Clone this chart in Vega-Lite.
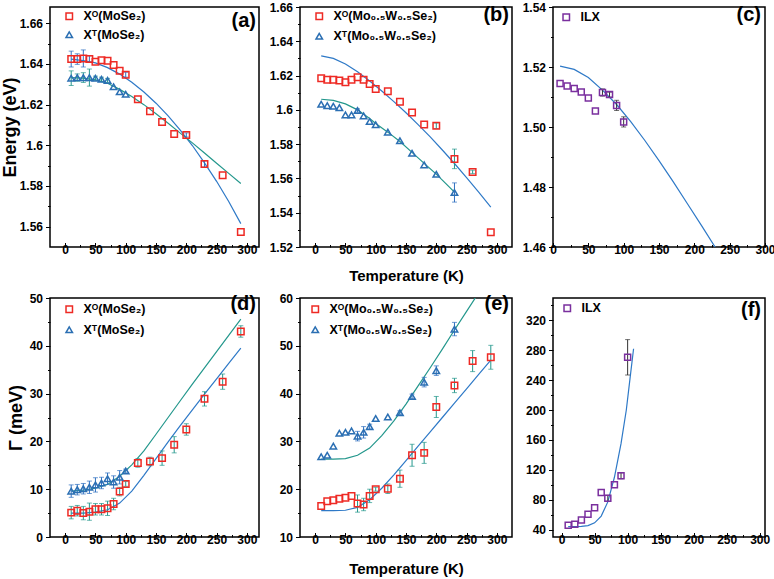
{
  "$schema": "https://vega.github.io/schema/vega-lite/v6.json",
  "background": "white",
  "padding": {"left": 0, "top": 0, "right": 0, "bottom": 0},
  "datasets": {
    "a_p": [
      {"T":10,"v":1.6424,"s":"o","lo":1.6385,"hi":1.6463},
      {"T":20,"v":1.6424,"s":"o","lo":1.6398,"hi":1.6450},
      {"T":30,"v":1.6427,"s":"o","lo":1.6385,"hi":1.6469},
      {"T":40,"v":1.6424,"s":"o","lo":1.6408,"hi":1.6440},
      {"T":50,"v":1.6411,"s":"o"},
      {"T":60,"v":1.6418,"s":"o"},
      {"T":70,"v":1.6416,"s":"o"},
      {"T":80,"v":1.6395,"s":"o"},
      {"T":90,"v":1.6366,"s":"o"},
      {"T":100,"v":1.6347,"s":"o","lo":1.6335,"hi":1.6359},
      {"T":120,"v":1.6227,"s":"o"},
      {"T":140,"v":1.6168,"s":"o"},
      {"T":160,"v":1.6115,"s":"o"},
      {"T":180,"v":1.6056,"s":"o"},
      {"T":200,"v":1.6051,"s":"o","lo":1.6041,"hi":1.6061},
      {"T":230,"v":1.5908,"s":"o","lo":1.5893,"hi":1.5923},
      {"T":260,"v":1.5853,"s":"o"},
      {"T":290,"v":1.5574,"s":"o"},
      {"T":10,"v":1.6330,"s":"t","lo":1.6294,"hi":1.6366},
      {"T":20,"v":1.6333,"s":"t","lo":1.6315,"hi":1.6351},
      {"T":30,"v":1.6333,"s":"t","lo":1.6309,"hi":1.6357},
      {"T":40,"v":1.6333,"s":"t","lo":1.6291,"hi":1.6375},
      {"T":50,"v":1.6330,"s":"t","lo":1.6320,"hi":1.6340},
      {"T":60,"v":1.6325,"s":"t","lo":1.6315,"hi":1.6335},
      {"T":70,"v":1.6319,"s":"t","lo":1.6309,"hi":1.6329},
      {"T":80,"v":1.6288,"s":"t"},
      {"T":90,"v":1.6263,"s":"t"},
      {"T":100,"v":1.6251,"s":"t"}
    ],
    "a_f": [
      {"T":10,"v":1.6424,"s":"o"},{"T":30,"v":1.6416,"s":"o"},{"T":50,"v":1.6405,"s":"o"},{"T":70,"v":1.6382,"s":"o"},
      {"T":90,"v":1.6350,"s":"o"},{"T":110,"v":1.6310,"s":"o"},{"T":130,"v":1.6262,"s":"o"},{"T":150,"v":1.6207,"s":"o"},
      {"T":170,"v":1.6145,"s":"o"},{"T":190,"v":1.6075,"s":"o"},{"T":210,"v":1.5999,"s":"o"},{"T":230,"v":1.5914,"s":"o"},
      {"T":250,"v":1.5823,"s":"o"},{"T":270,"v":1.5724,"s":"o"},{"T":290,"v":1.5615,"s":"o"},
      {"T":10,"v":1.6333,"s":"t"},{"T":30,"v":1.6330,"s":"t"},{"T":50,"v":1.6322,"s":"t"},{"T":70,"v":1.6305,"s":"t"},
      {"T":90,"v":1.6275,"s":"t"},{"T":110,"v":1.6240,"s":"t"},{"T":130,"v":1.6200,"s":"t"},{"T":150,"v":1.6155,"s":"t"},
      {"T":170,"v":1.6108,"s":"t"},{"T":190,"v":1.6060,"s":"t"},{"T":210,"v":1.6012,"s":"t"},{"T":230,"v":1.5962,"s":"t"},
      {"T":250,"v":1.5912,"s":"t"},{"T":270,"v":1.5862,"s":"t"},{"T":290,"v":1.5812,"s":"t"}
    ],
    "b_p": [
      {"T":10,"v":1.6184,"s":"o"},{"T":20,"v":1.6176,"s":"o"},{"T":30,"v":1.6176,"s":"o"},{"T":40,"v":1.6171,"s":"o"},
      {"T":50,"v":1.6161,"s":"o"},{"T":60,"v":1.6176,"s":"o"},{"T":70,"v":1.6190,"s":"o"},{"T":80,"v":1.6176,"s":"o"},
      {"T":90,"v":1.6151,"s":"o"},{"T":100,"v":1.6121,"s":"o"},{"T":120,"v":1.6108,"s":"o"},{"T":140,"v":1.6047,"s":"o"},
      {"T":160,"v":1.5984,"s":"o"},{"T":180,"v":1.5914,"s":"o"},
      {"T":200,"v":1.5907,"s":"o","lo":1.5891,"hi":1.5923},
      {"T":230,"v":1.5714,"s":"o","lo":1.5657,"hi":1.5771},
      {"T":260,"v":1.5638,"s":"o","lo":1.5628,"hi":1.5648},
      {"T":290,"v":1.5286,"s":"o"},
      {"T":10,"v":1.6033,"s":"t"},{"T":20,"v":1.6025,"s":"t"},{"T":30,"v":1.6021,"s":"t"},{"T":40,"v":1.6013,"s":"t"},
      {"T":50,"v":1.5971,"s":"t"},{"T":60,"v":1.5971,"s":"t"},
      {"T":70,"v":1.5996,"s":"t","lo":1.5986,"hi":1.6006},
      {"T":80,"v":1.5965,"s":"t"},{"T":90,"v":1.5932,"s":"t"},{"T":100,"v":1.5913,"s":"t"},{"T":120,"v":1.5870,"s":"t"},
      {"T":140,"v":1.5820,"s":"t"},{"T":160,"v":1.5747,"s":"t"},{"T":180,"v":1.5679,"s":"t"},{"T":200,"v":1.5624,"s":"t"},
      {"T":230,"v":1.5518,"s":"t","lo":1.5462,"hi":1.5574}
    ],
    "b_f": [
      {"T":10,"v":1.6315,"s":"o"},{"T":30,"v":1.6300,"s":"o"},{"T":50,"v":1.6268,"s":"o"},{"T":70,"v":1.6222,"s":"o"},
      {"T":90,"v":1.6168,"s":"o"},{"T":110,"v":1.6110,"s":"o"},{"T":130,"v":1.6048,"s":"o"},{"T":150,"v":1.5983,"s":"o"},
      {"T":170,"v":1.5914,"s":"o"},{"T":190,"v":1.5842,"s":"o"},{"T":210,"v":1.5766,"s":"o"},{"T":230,"v":1.5687,"s":"o"},
      {"T":250,"v":1.5605,"s":"o"},{"T":270,"v":1.5520,"s":"o"},{"T":290,"v":1.5432,"s":"o"},
      {"T":10,"v":1.6062,"s":"t"},{"T":30,"v":1.6055,"s":"t"},{"T":50,"v":1.6035,"s":"t"},{"T":70,"v":1.6000,"s":"t"},
      {"T":90,"v":1.5950,"s":"t"},{"T":100,"v":1.5920,"s":"t"},{"T":120,"v":1.5870,"s":"t"},{"T":140,"v":1.5815,"s":"t"},
      {"T":160,"v":1.5752,"s":"t"},{"T":180,"v":1.5688,"s":"t"},{"T":200,"v":1.5625,"s":"t"},{"T":230,"v":1.5520,"s":"t"}
    ],
    "c_p": [
      {"T":10,"v":1.5145,"s":"ILX"},{"T":20,"v":1.5137,"s":"ILX"},{"T":30,"v":1.5128,"s":"ILX"},{"T":40,"v":1.5117,"s":"ILX"},
      {"T":50,"v":1.5097,"s":"ILX"},{"T":60,"v":1.5053,"s":"ILX"},
      {"T":70,"v":1.5115,"s":"ILX","lo":1.5103,"hi":1.5127},
      {"T":80,"v":1.5108,"s":"ILX","lo":1.5100,"hi":1.5116},
      {"T":90,"v":1.5072,"s":"ILX","lo":1.5055,"hi":1.5089},
      {"T":100,"v":1.5017,"s":"ILX","lo":1.5000,"hi":1.5034}
    ],
    "c_f": [
      {"T":10,"v":1.5203},{"T":30,"v":1.5192},{"T":50,"v":1.5165},{"T":70,"v":1.5123},{"T":90,"v":1.5075},
      {"T":110,"v":1.5018},{"T":130,"v":1.4955},{"T":150,"v":1.4888},{"T":170,"v":1.4818},{"T":190,"v":1.4745},
      {"T":210,"v":1.4672},{"T":232,"v":1.4590}
    ],
    "d_p": [
      {"T":10,"v":5.1,"s":"o","lo":3.8,"hi":6.4},{"T":20,"v":5.5,"s":"o","lo":4.4,"hi":6.6},
      {"T":30,"v":5.0,"s":"o","lo":3.6,"hi":6.4},{"T":40,"v":5.3,"s":"o","lo":3.5,"hi":7.1},
      {"T":50,"v":5.8,"s":"o","lo":4.6,"hi":7.0},{"T":60,"v":5.8,"s":"o","lo":4.6,"hi":7.0},
      {"T":70,"v":6.0,"s":"o","lo":4.5,"hi":7.5},{"T":80,"v":6.9,"s":"o","lo":5.7,"hi":8.1},
      {"T":90,"v":9.5,"s":"o","lo":8.6,"hi":10.4},{"T":100,"v":11.1,"s":"o","lo":10.6,"hi":11.6},
      {"T":120,"v":15.5,"s":"o","lo":14.6,"hi":16.4},{"T":140,"v":15.8,"s":"o","lo":14.9,"hi":16.7},
      {"T":160,"v":16.5,"s":"o","lo":15.0,"hi":18.0},{"T":180,"v":19.3,"s":"o","lo":17.6,"hi":21.0},
      {"T":200,"v":22.5,"s":"o","lo":21.3,"hi":23.7},{"T":230,"v":28.9,"s":"o","lo":27.4,"hi":30.4},
      {"T":260,"v":32.5,"s":"o","lo":30.9,"hi":34.1},{"T":290,"v":43.0,"s":"o","lo":41.8,"hi":44.2},
      {"T":10,"v":9.6,"s":"t","lo":8.3,"hi":10.9},{"T":20,"v":9.9,"s":"t","lo":8.8,"hi":11.0},
      {"T":30,"v":10.1,"s":"t","lo":9.0,"hi":11.2},{"T":40,"v":10.4,"s":"t","lo":9.1,"hi":11.7},
      {"T":50,"v":10.9,"s":"t","lo":9.4,"hi":12.4},{"T":60,"v":11.3,"s":"t","lo":10.1,"hi":12.5},
      {"T":70,"v":12.2,"s":"t","lo":11.0,"hi":13.4},{"T":80,"v":11.5,"s":"t","lo":10.2,"hi":12.8},
      {"T":90,"v":12.5,"s":"t","lo":11.1,"hi":13.9},{"T":100,"v":13.8,"s":"t","lo":13.4,"hi":14.2}
    ],
    "d_f": [
      {"T":10,"v":5.0,"s":"o"},{"T":30,"v":5.0,"s":"o"},{"T":50,"v":5.2,"s":"o"},{"T":70,"v":5.7,"s":"o"},
      {"T":90,"v":7.1,"s":"o"},{"T":110,"v":9.6,"s":"o"},{"T":130,"v":12.9,"s":"o"},{"T":150,"v":16.4,"s":"o"},
      {"T":170,"v":19.9,"s":"o"},{"T":190,"v":23.3,"s":"o"},{"T":210,"v":26.6,"s":"o"},{"T":230,"v":29.9,"s":"o"},
      {"T":250,"v":33.1,"s":"o"},{"T":270,"v":36.3,"s":"o"},{"T":290,"v":39.5,"s":"o"},
      {"T":10,"v":9.6,"s":"t"},{"T":30,"v":9.8,"s":"t"},{"T":50,"v":10.2,"s":"t"},{"T":70,"v":11.0,"s":"t"},
      {"T":90,"v":12.7,"s":"t"},{"T":110,"v":15.1,"s":"t"},{"T":130,"v":18.0,"s":"t"},{"T":150,"v":21.5,"s":"t"},
      {"T":170,"v":25.0,"s":"t"},{"T":190,"v":28.5,"s":"t"},{"T":210,"v":32.0,"s":"t"},{"T":230,"v":35.4,"s":"t"},
      {"T":250,"v":38.8,"s":"t"},{"T":270,"v":42.2,"s":"t"},{"T":290,"v":45.6,"s":"t"}
    ],
    "e_p": [
      {"T":10,"v":16.5,"s":"o"},{"T":20,"v":17.5,"s":"o"},{"T":30,"v":17.7,"s":"o"},{"T":40,"v":18.0,"s":"o"},
      {"T":50,"v":18.2,"s":"o"},{"T":60,"v":18.6,"s":"o"},
      {"T":70,"v":17.0,"s":"o","lo":15.2,"hi":18.8},{"T":80,"v":16.8,"s":"o","lo":15.5,"hi":18.1},
      {"T":90,"v":18.6,"s":"o","lo":17.2,"hi":20.0},{"T":100,"v":20.0,"s":"o","lo":19.6,"hi":20.4},
      {"T":120,"v":20.1,"s":"o","lo":19.1,"hi":21.1},{"T":140,"v":22.2,"s":"o","lo":20.4,"hi":24.0},
      {"T":160,"v":27.1,"s":"o","lo":24.8,"hi":29.4},{"T":180,"v":27.6,"s":"o","lo":25.4,"hi":29.8},
      {"T":200,"v":37.2,"s":"o","lo":35.0,"hi":39.4},{"T":230,"v":41.7,"s":"o","lo":40.2,"hi":43.2},
      {"T":260,"v":46.8,"s":"o","lo":44.6,"hi":49.0},{"T":290,"v":47.6,"s":"o","lo":45.1,"hi":50.1},
      {"T":10,"v":26.8,"s":"t"},{"T":20,"v":27.1,"s":"t"},{"T":30,"v":29.0,"s":"t"},{"T":40,"v":31.7,"s":"t"},
      {"T":50,"v":31.9,"s":"t"},{"T":60,"v":32.2,"s":"t"},
      {"T":70,"v":31.1,"s":"t","lo":30.1,"hi":32.1},{"T":80,"v":31.9,"s":"t","lo":30.7,"hi":33.1},
      {"T":90,"v":33.1,"s":"t","lo":32.6,"hi":33.6},{"T":100,"v":34.8,"s":"t"},{"T":120,"v":35.1,"s":"t"},
      {"T":140,"v":36.0,"s":"t","lo":35.6,"hi":36.4},{"T":160,"v":39.4,"s":"t","lo":38.9,"hi":39.9},
      {"T":180,"v":42.4,"s":"t","lo":41.4,"hi":43.4},{"T":200,"v":44.8,"s":"t","lo":43.8,"hi":45.8},
      {"T":230,"v":53.5,"s":"t","lo":52.1,"hi":54.9}
    ],
    "e_f": [
      {"T":10,"v":15.5,"s":"o"},{"T":30,"v":15.5,"s":"o"},{"T":50,"v":15.6,"s":"o"},{"T":70,"v":16.2,"s":"o"},
      {"T":90,"v":17.8,"s":"o"},{"T":110,"v":20.2,"s":"o"},{"T":130,"v":23.0,"s":"o"},{"T":150,"v":26.0,"s":"o"},
      {"T":170,"v":29.0,"s":"o"},{"T":190,"v":32.0,"s":"o"},{"T":210,"v":35.0,"s":"o"},{"T":230,"v":38.0,"s":"o"},
      {"T":250,"v":41.0,"s":"o"},{"T":270,"v":44.0,"s":"o"},{"T":290,"v":47.0,"s":"o"},
      {"T":10,"v":26.3,"s":"t"},{"T":30,"v":26.3,"s":"t"},{"T":50,"v":26.4,"s":"t"},{"T":70,"v":27.1,"s":"t"},
      {"T":90,"v":28.6,"s":"t"},{"T":110,"v":31.2,"s":"t"},{"T":130,"v":34.3,"s":"t"},{"T":150,"v":37.8,"s":"t"},
      {"T":170,"v":41.6,"s":"t"},{"T":190,"v":45.4,"s":"t"},{"T":210,"v":49.3,"s":"t"},{"T":230,"v":53.3,"s":"t"},
      {"T":250,"v":57.2,"s":"t"},{"T":270,"v":61.1,"s":"t"}
    ],
    "f_p": [
      {"T":10,"v":45.8,"s":"ILX"},{"T":20,"v":47.2,"s":"ILX"},{"T":30,"v":52.7,"s":"ILX"},{"T":40,"v":60.3,"s":"ILX"},
      {"T":50,"v":69.3,"s":"ILX"},{"T":60,"v":89.7,"s":"ILX"},
      {"T":70,"v":81.8,"s":"ILX","lo":77.8,"hi":85.8},
      {"T":80,"v":100.0,"s":"ILX"},
      {"T":90,"v":112.0,"s":"ILX","lo":108.0,"hi":116.0},
      {"T":100,"v":270.6,"s":"ILX","lo":246.9,"hi":294.3}
    ],
    "f_f": [
      {"T":10,"v":44.0},{"T":20,"v":44.0},{"T":30,"v":44.3},{"T":40,"v":45.3},{"T":50,"v":49.0},{"T":60,"v":58.0},
      {"T":70,"v":77.0},{"T":80,"v":110.0},{"T":90,"v":155.0},{"T":98,"v":200.0},{"T":104,"v":245.0},{"T":109,"v":282.0}
    ]
  },
  "config": {
    "font": "Liberation Sans",
    "view": {"stroke": "black", "strokeWidth": 1.5},
    "axis": {
      "grid": false, "domain": false, "tickCount": 40,
      "labelFont": "Liberation Sans", "labelFontSize": 12, "labelFontWeight": "bold", "labelColor": "black",
      "labelPadding": 3, "labelOverlap": false, "labelFlush": false, "labelBound": false,
      "tickColor": "black", "tickWidth": 1,
      "titleFont": "Liberation Sans", "titleFontWeight": "bold", "titleColor": "black"
    },
    "title": {"font": "Liberation Sans", "fontSize": 20, "fontWeight": "bold", "color": "black", "anchor": "end", "frame": "group", "baseline": "middle"},
    "legend": {"orient": "none", "title": null, "padding": 0, "symbolStrokeWidth": 1.5, "symbolSize": 42,
      "labelFont": "Liberation Sans", "labelFontSize": 12.5, "labelFontWeight": "bold", "labelColor": "black", "labelOffset": 8}
  },
  "columns": 3,
  "spacing": {"row": 51, "column": 41},
  "bounds": "flush",
  "align": "each",
  "resolve": {"scale": {"color": "independent", "shape": "independent"}, "legend": {"color": "independent", "shape": "independent"}},
  "concat": [
    {
      "width": 209, "height": 240,
      "title": {"text": "(a)", "offset": -24, "dx": -3},
      "layer": [
        {"data": {"name": "a_f"}, "transform": [{"filter": "datum.s == 'o'"}],
         "mark": {"type": "line", "color": "#2e79c7", "strokeWidth": 1.2, "clip": true},
         "encoding": {
           "x": {"field": "T", "type": "quantitative", "title": null, "scale": {"domain": [-25, 320], "nice": false, "zero": false},
             "axis": {"values": [0,25,50,75,100,125,150,175,200,225,250,275,300], "tickCount": 40, "format": "d", "labelOverlap": false, "labelPadding": 2,
               "labelExpr": "datum.value % 50 == 0 ? datum.label : ''",
               "tickSize": {"condition": {"test": "datum.value % 50 != 0", "value": -2.5}, "value": -4.5}}},
           "y": {"field": "v", "type": "quantitative", "title": "Energy (eV)", "scale": {"domain": [1.55, 1.668], "nice": false, "zero": false},
             "axis": {"titleFontSize": 18, "titlePadding": 0, "labelOverlap": false, "tickCount": 40,
               "values": [1.56,1.57,1.58,1.59,1.60,1.61,1.62,1.63,1.64,1.65,1.66], "format": ".2~f",
               "labelExpr": "abs(datum.value*50 - round(datum.value*50)) < 0.01 ? datum.label : ''",
               "tickSize": {"condition": {"test": "abs(datum.value*50 - round(datum.value*50)) > 0.01", "value": 2.5}, "value": 4.5}}}
         }},
        {"data": {"name": "a_f"}, "transform": [{"filter": "datum.s == 't'"}],
         "mark": {"type": "line", "color": "#23978c", "strokeWidth": 1.2, "clip": true},
         "encoding": {"x": {"field": "T", "type": "quantitative", "title": null}, "y": {"field": "v", "type": "quantitative", "title": "Energy (eV)"}}},
        {"data": {"name": "a_p"}, "transform": [{"filter": "datum.s == 'o' && isValid(datum.lo)"}],
         "mark": {"type": "errorbar", "ticks": true, "size": 5, "thickness": 1, "color": "#2e6fc0"},
         "encoding": {"x": {"field": "T", "type": "quantitative", "title": null}, "y": {"field": "lo", "type": "quantitative", "title": "Energy (eV)"}, "y2": {"field": "hi"}}},
        {"data": {"name": "a_p"}, "transform": [{"filter": "datum.s == 't' && isValid(datum.lo)"}],
         "mark": {"type": "errorbar", "ticks": true, "size": 5, "thickness": 1, "color": "#23978c"},
         "encoding": {"x": {"field": "T", "type": "quantitative", "title": null}, "y": {"field": "lo", "type": "quantitative", "title": "Energy (eV)"}, "y2": {"field": "hi"}}},
        {"data": {"name": "a_p"},
         "mark": {"type": "point", "filled": false, "size": 42, "strokeWidth": 1.5, "opacity": 1},
         "encoding": {
           "x": {"field": "T", "type": "quantitative", "title": null}, "y": {"field": "v", "type": "quantitative", "title": "Energy (eV)"},
           "color": {"field": "s", "type": "nominal", "scale": {"domain": ["o", "t"], "range": ["#ee2a24", "#2b6fb3"]},
             "legend": {"legendX": 13, "legendY": 3, "rowPadding": 5.5, "labelExpr": "datum.label == 'o' ? 'Xᴼ(MoSe₂)' : 'Xᵀ(MoSe₂)'"}},
           "shape": {"field": "s", "type": "nominal", "scale": {"domain": ["o", "t"], "range": ["square", "triangle-up"]},
             "legend": {"legendX": 13, "legendY": 3, "rowPadding": 5.5, "labelExpr": "datum.label == 'o' ? 'Xᴼ(MoSe₂)' : 'Xᵀ(MoSe₂)'"}}
         }}
      ]
    },
    {
      "width": 212, "height": 240,
      "title": {"text": "(b)", "offset": -24, "dx": -3},
      "layer": [
        {"data": {"name": "b_f"}, "transform": [{"filter": "datum.s == 'o'"}],
         "mark": {"type": "line", "color": "#2e79c7", "strokeWidth": 1.2, "clip": true},
         "encoding": {
           "x": {"field": "T", "type": "quantitative", "title": "Temperature (K)", "scale": {"domain": [-25, 325], "nice": false, "zero": false},
             "axis": {"titleFontSize": 15, "titlePadding": 11, "labelOverlap": false, "labelPadding": 2, "tickCount": 40,
               "values": [0,25,50,75,100,125,150,175,200,225,250,275,300], "format": "d",
               "labelExpr": "datum.value % 50 == 0 ? datum.label : ''",
               "tickSize": {"condition": {"test": "datum.value % 50 != 0", "value": -2.5}, "value": -4.5}}},
           "y": {"field": "v", "type": "quantitative", "title": null, "scale": {"domain": [1.52, 1.66], "nice": false, "zero": false},
             "axis": {"labelOverlap": false, "tickCount": 40, "values": [1.52,1.53,1.54,1.55,1.56,1.57,1.58,1.59,1.60,1.61,1.62,1.63,1.64,1.65,1.66], "format": ".2~f",
               "labelExpr": "abs(datum.value*50 - round(datum.value*50)) < 0.01 ? datum.label : ''",
               "tickSize": {"condition": {"test": "abs(datum.value*50 - round(datum.value*50)) > 0.01", "value": 2.5}, "value": 4.5}}}
         }},
        {"data": {"name": "b_f"}, "transform": [{"filter": "datum.s == 't'"}],
         "mark": {"type": "line", "color": "#23978c", "strokeWidth": 1.2, "clip": true},
         "encoding": {"x": {"field": "T", "type": "quantitative", "title": "Temperature (K)"}, "y": {"field": "v", "type": "quantitative", "title": null}}},
        {"data": {"name": "b_p"}, "transform": [{"filter": "datum.s == 'o' && isValid(datum.lo)"}],
         "mark": {"type": "errorbar", "ticks": true, "size": 5, "thickness": 1, "color": "#23978c"},
         "encoding": {"x": {"field": "T", "type": "quantitative", "title": "Temperature (K)"}, "y": {"field": "lo", "type": "quantitative", "title": null}, "y2": {"field": "hi"}}},
        {"data": {"name": "b_p"}, "transform": [{"filter": "datum.s == 't' && isValid(datum.lo)"}],
         "mark": {"type": "errorbar", "ticks": true, "size": 5, "thickness": 1, "color": "#2e6fc0"},
         "encoding": {"x": {"field": "T", "type": "quantitative", "title": "Temperature (K)"}, "y": {"field": "lo", "type": "quantitative", "title": null}, "y2": {"field": "hi"}}},
        {"data": {"name": "b_p"},
         "mark": {"type": "point", "filled": false, "size": 42, "strokeWidth": 1.5, "opacity": 1},
         "encoding": {
           "x": {"field": "T", "type": "quantitative", "title": "Temperature (K)"}, "y": {"field": "v", "type": "quantitative", "title": null},
           "color": {"field": "s", "type": "nominal", "scale": {"domain": ["o", "t"], "range": ["#ee2a24", "#2b6fb3"]},
             "legend": {"legendX": 13, "legendY": 3, "rowPadding": 7, "labelExpr": "datum.label == 'o' ? 'Xᴼ(Mo₀.₅W₀.₅Se₂)' : 'Xᵀ(Mo₀.₅W₀.₅Se₂)'"}},
           "shape": {"field": "s", "type": "nominal", "scale": {"domain": ["o", "t"], "range": ["square", "triangle-up"]},
             "legend": {"legendX": 13, "legendY": 3, "rowPadding": 7, "labelExpr": "datum.label == 'o' ? 'Xᴼ(Mo₀.₅W₀.₅Se₂)' : 'Xᵀ(Mo₀.₅W₀.₅Se₂)'"}}
         }}
      ]
    },
    {
      "width": 212, "height": 240,
      "title": {"text": "(c)", "offset": -24, "dx": -4},
      "layer": [
        {"data": {"name": "c_f"},
         "mark": {"type": "line", "color": "#2e79c7", "strokeWidth": 1.2, "clip": true},
         "encoding": {
           "x": {"field": "T", "type": "quantitative", "title": null, "scale": {"domain": [0, 300], "nice": false, "zero": false},
             "axis": {"values": [0,25,50,75,100,125,150,175,200,225,250,275,300], "tickCount": 40, "format": "d", "labelOverlap": false, "labelPadding": 2,
               "labelExpr": "datum.value % 50 == 0 ? datum.label : ''",
               "tickSize": {"condition": {"test": "datum.value % 50 != 0", "value": -2.5}, "value": -4.5}}},
           "y": {"field": "v", "type": "quantitative", "title": null, "scale": {"domain": [1.46, 1.54], "nice": false, "zero": false},
             "axis": {"labelOverlap": false, "tickCount": 40, "values": [1.46,1.47,1.48,1.49,1.50,1.51,1.52,1.53,1.54], "format": ".2f",
               "labelExpr": "abs(datum.value*50 - round(datum.value*50)) < 0.01 ? datum.label : ''",
               "tickSize": {"condition": {"test": "abs(datum.value*50 - round(datum.value*50)) > 0.01", "value": 2.5}, "value": 4.5}}}
         }},
        {"data": {"name": "c_p"}, "transform": [{"filter": "isValid(datum.lo)"}],
         "mark": {"type": "errorbar", "ticks": true, "size": 5, "thickness": 1, "color": "#333333"},
         "encoding": {"x": {"field": "T", "type": "quantitative", "title": null}, "y": {"field": "lo", "type": "quantitative", "title": null}, "y2": {"field": "hi"}}},
        {"data": {"name": "c_p"},
         "mark": {"type": "point", "filled": false, "size": 36, "strokeWidth": 1.5, "opacity": 1},
         "encoding": {
           "x": {"field": "T", "type": "quantitative", "title": null}, "y": {"field": "v", "type": "quantitative", "title": null},
           "color": {"field": "s", "type": "nominal", "scale": {"domain": ["ILX"], "range": ["#7a2f9e"]},
             "legend": {"legendX": 7, "legendY": 4}},
           "shape": {"field": "s", "type": "nominal", "scale": {"domain": ["ILX"], "range": ["square"]},
             "legend": {"legendX": 7, "legendY": 4}}
         }}
      ]
    },
    {
      "width": 209, "height": 239,
      "title": {"text": "(d)", "offset": -22, "dx": -3},
      "layer": [
        {"data": {"name": "d_f"}, "transform": [{"filter": "datum.s == 'o'"}],
         "mark": {"type": "line", "color": "#2e79c7", "strokeWidth": 1.2, "clip": true},
         "encoding": {
           "x": {"field": "T", "type": "quantitative", "title": null, "scale": {"domain": [-25, 320], "nice": false, "zero": false},
             "axis": {"values": [0,25,50,75,100,125,150,175,200,225,250,275,300], "tickCount": 40, "format": "d", "labelOverlap": false, "labelPadding": 2,
               "labelExpr": "datum.value % 50 == 0 ? datum.label : ''",
               "tickSize": {"condition": {"test": "datum.value % 50 != 0", "value": -2.5}, "value": -4.5}}},
           "y": {"field": "v", "type": "quantitative", "title": "Γ (meV)", "scale": {"domain": [0, 50], "nice": false, "zero": false},
             "axis": {"titleFontSize": 18, "titlePadding": 4, "labelOverlap": false, "tickCount": 40,
               "values": [0,5,10,15,20,25,30,35,40,45,50], "format": "d",
               "labelExpr": "datum.value % 10 == 0 ? datum.label : ''",
               "tickSize": {"condition": {"test": "datum.value % 10 != 0", "value": 2.5}, "value": 4.5}}}
         }},
        {"data": {"name": "d_f"}, "transform": [{"filter": "datum.s == 't'"}],
         "mark": {"type": "line", "color": "#23978c", "strokeWidth": 1.2, "clip": true},
         "encoding": {"x": {"field": "T", "type": "quantitative", "title": null}, "y": {"field": "v", "type": "quantitative", "title": "Γ (meV)"}}},
        {"data": {"name": "d_p"}, "transform": [{"filter": "datum.s == 'o' && isValid(datum.lo)"}],
         "mark": {"type": "errorbar", "ticks": true, "size": 5, "thickness": 1, "color": "#23978c"},
         "encoding": {"x": {"field": "T", "type": "quantitative", "title": null}, "y": {"field": "lo", "type": "quantitative", "title": "Γ (meV)"}, "y2": {"field": "hi"}}},
        {"data": {"name": "d_p"}, "transform": [{"filter": "datum.s == 't' && isValid(datum.lo)"}],
         "mark": {"type": "errorbar", "ticks": true, "size": 5, "thickness": 1, "color": "#2e6fc0"},
         "encoding": {"x": {"field": "T", "type": "quantitative", "title": null}, "y": {"field": "lo", "type": "quantitative", "title": "Γ (meV)"}, "y2": {"field": "hi"}}},
        {"data": {"name": "d_p"},
         "mark": {"type": "point", "filled": false, "size": 42, "strokeWidth": 1.5, "opacity": 1},
         "encoding": {
           "x": {"field": "T", "type": "quantitative", "title": null}, "y": {"field": "v", "type": "quantitative", "title": "Γ (meV)"},
           "color": {"field": "s", "type": "nominal", "scale": {"domain": ["o", "t"], "range": ["#ee2a24", "#2b6fb3"]},
             "legend": {"legendX": 13, "legendY": 5, "rowPadding": 7.5, "labelExpr": "datum.label == 'o' ? 'Xᴼ(MoSe₂)' : 'Xᵀ(MoSe₂)'"}},
           "shape": {"field": "s", "type": "nominal", "scale": {"domain": ["o", "t"], "range": ["square", "triangle-up"]},
             "legend": {"legendX": 13, "legendY": 5, "rowPadding": 7.5, "labelExpr": "datum.label == 'o' ? 'Xᴼ(MoSe₂)' : 'Xᵀ(MoSe₂)'"}}
         }}
      ]
    },
    {
      "width": 212, "height": 239,
      "title": {"text": "(e)", "offset": -22, "dx": -3},
      "layer": [
        {"data": {"name": "e_f"}, "transform": [{"filter": "datum.s == 'o'"}],
         "mark": {"type": "line", "color": "#2e79c7", "strokeWidth": 1.2, "clip": true},
         "encoding": {
           "x": {"field": "T", "type": "quantitative", "title": "Temperature (K)", "scale": {"domain": [-25, 325], "nice": false, "zero": false},
             "axis": {"titleFontSize": 15, "titlePadding": 14, "labelOverlap": false, "labelPadding": 2, "tickCount": 40,
               "values": [0,25,50,75,100,125,150,175,200,225,250,275,300], "format": "d",
               "labelExpr": "datum.value % 50 == 0 ? datum.label : ''",
               "tickSize": {"condition": {"test": "datum.value % 50 != 0", "value": -2.5}, "value": -4.5}}},
           "y": {"field": "v", "type": "quantitative", "title": null, "scale": {"domain": [10, 60], "nice": false, "zero": false},
             "axis": {"labelOverlap": false, "tickCount": 40, "values": [10,15,20,25,30,35,40,45,50,55,60], "format": "d",
               "labelExpr": "datum.value % 10 == 0 ? datum.label : ''",
               "tickSize": {"condition": {"test": "datum.value % 10 != 0", "value": 2.5}, "value": 4.5}}}
         }},
        {"data": {"name": "e_f"}, "transform": [{"filter": "datum.s == 't'"}],
         "mark": {"type": "line", "color": "#23978c", "strokeWidth": 1.2, "clip": true},
         "encoding": {"x": {"field": "T", "type": "quantitative", "title": "Temperature (K)"}, "y": {"field": "v", "type": "quantitative", "title": null}}},
        {"data": {"name": "e_p"}, "transform": [{"filter": "datum.s == 'o' && isValid(datum.lo)"}],
         "mark": {"type": "errorbar", "ticks": true, "size": 5, "thickness": 1, "color": "#23978c"},
         "encoding": {"x": {"field": "T", "type": "quantitative", "title": "Temperature (K)"}, "y": {"field": "lo", "type": "quantitative", "title": null}, "y2": {"field": "hi"}}},
        {"data": {"name": "e_p"}, "transform": [{"filter": "datum.s == 't' && isValid(datum.lo)"}],
         "mark": {"type": "errorbar", "ticks": true, "size": 5, "thickness": 1, "color": "#2e6fc0"},
         "encoding": {"x": {"field": "T", "type": "quantitative", "title": "Temperature (K)"}, "y": {"field": "lo", "type": "quantitative", "title": null}, "y2": {"field": "hi"}}},
        {"data": {"name": "e_p"},
         "mark": {"type": "point", "filled": false, "size": 42, "strokeWidth": 1.5, "opacity": 1},
         "encoding": {
           "x": {"field": "T", "type": "quantitative", "title": "Temperature (K)"}, "y": {"field": "v", "type": "quantitative", "title": null},
           "color": {"field": "s", "type": "nominal", "scale": {"domain": ["o", "t"], "range": ["#ee2a24", "#2b6fb3"]},
             "legend": {"legendX": 9, "legendY": 5, "rowPadding": 7.5, "labelExpr": "datum.label == 'o' ? 'Xᴼ(Mo₀.₅W₀.₅Se₂)' : 'Xᵀ(Mo₀.₅W₀.₅Se₂)'"}},
           "shape": {"field": "s", "type": "nominal", "scale": {"domain": ["o", "t"], "range": ["square", "triangle-up"]},
             "legend": {"legendX": 9, "legendY": 5, "rowPadding": 7.5, "labelExpr": "datum.label == 'o' ? 'Xᴼ(Mo₀.₅W₀.₅Se₂)' : 'Xᵀ(Mo₀.₅W₀.₅Se₂)'"}}
         }}
      ]
    },
    {
      "width": 212, "height": 239,
      "title": {"text": "(f)", "offset": -22, "dx": -4},
      "layer": [
        {"data": {"name": "f_f"},
         "mark": {"type": "line", "color": "#2e79c7", "strokeWidth": 1.2, "clip": true},
         "encoding": {
           "x": {"field": "T", "type": "quantitative", "title": null, "scale": {"domain": [-13, 308], "nice": false, "zero": false},
             "axis": {"values": [0,25,50,75,100,125,150,175,200,225,250,275,300], "tickCount": 40, "format": "d", "labelOverlap": false, "labelPadding": 2,
               "labelExpr": "datum.value % 50 == 0 ? datum.label : ''",
               "tickSize": {"condition": {"test": "datum.value % 50 != 0", "value": -2.5}, "value": -4.5}}},
           "y": {"field": "v", "type": "quantitative", "title": null, "scale": {"domain": [30, 350], "nice": false, "zero": false},
             "axis": {"labelOverlap": false, "tickCount": 40, "values": [40,60,80,100,120,140,160,180,200,220,240,260,280,300,320,340], "format": "d",
               "labelExpr": "datum.value % 40 == 0 ? datum.label : ''",
               "tickSize": {"condition": {"test": "datum.value % 40 != 0", "value": 2.5}, "value": 4.5}}}
         }},
        {"data": {"name": "f_p"}, "transform": [{"filter": "isValid(datum.lo)"}],
         "mark": {"type": "errorbar", "ticks": true, "size": 5, "thickness": 1, "color": "#333333"},
         "encoding": {"x": {"field": "T", "type": "quantitative", "title": null}, "y": {"field": "lo", "type": "quantitative", "title": null}, "y2": {"field": "hi"}}},
        {"data": {"name": "f_p"},
         "mark": {"type": "point", "filled": false, "size": 36, "strokeWidth": 1.5, "opacity": 1},
         "encoding": {
           "x": {"field": "T", "type": "quantitative", "title": null}, "y": {"field": "v", "type": "quantitative", "title": null},
           "color": {"field": "s", "type": "nominal", "scale": {"domain": ["ILX"], "range": ["#7a2f9e"]},
             "legend": {"legendX": 8, "legendY": 4}},
           "shape": {"field": "s", "type": "nominal", "scale": {"domain": ["ILX"], "range": ["square"]},
             "legend": {"legendX": 8, "legendY": 4}}
         }}
      ]
    }
  ]
}
